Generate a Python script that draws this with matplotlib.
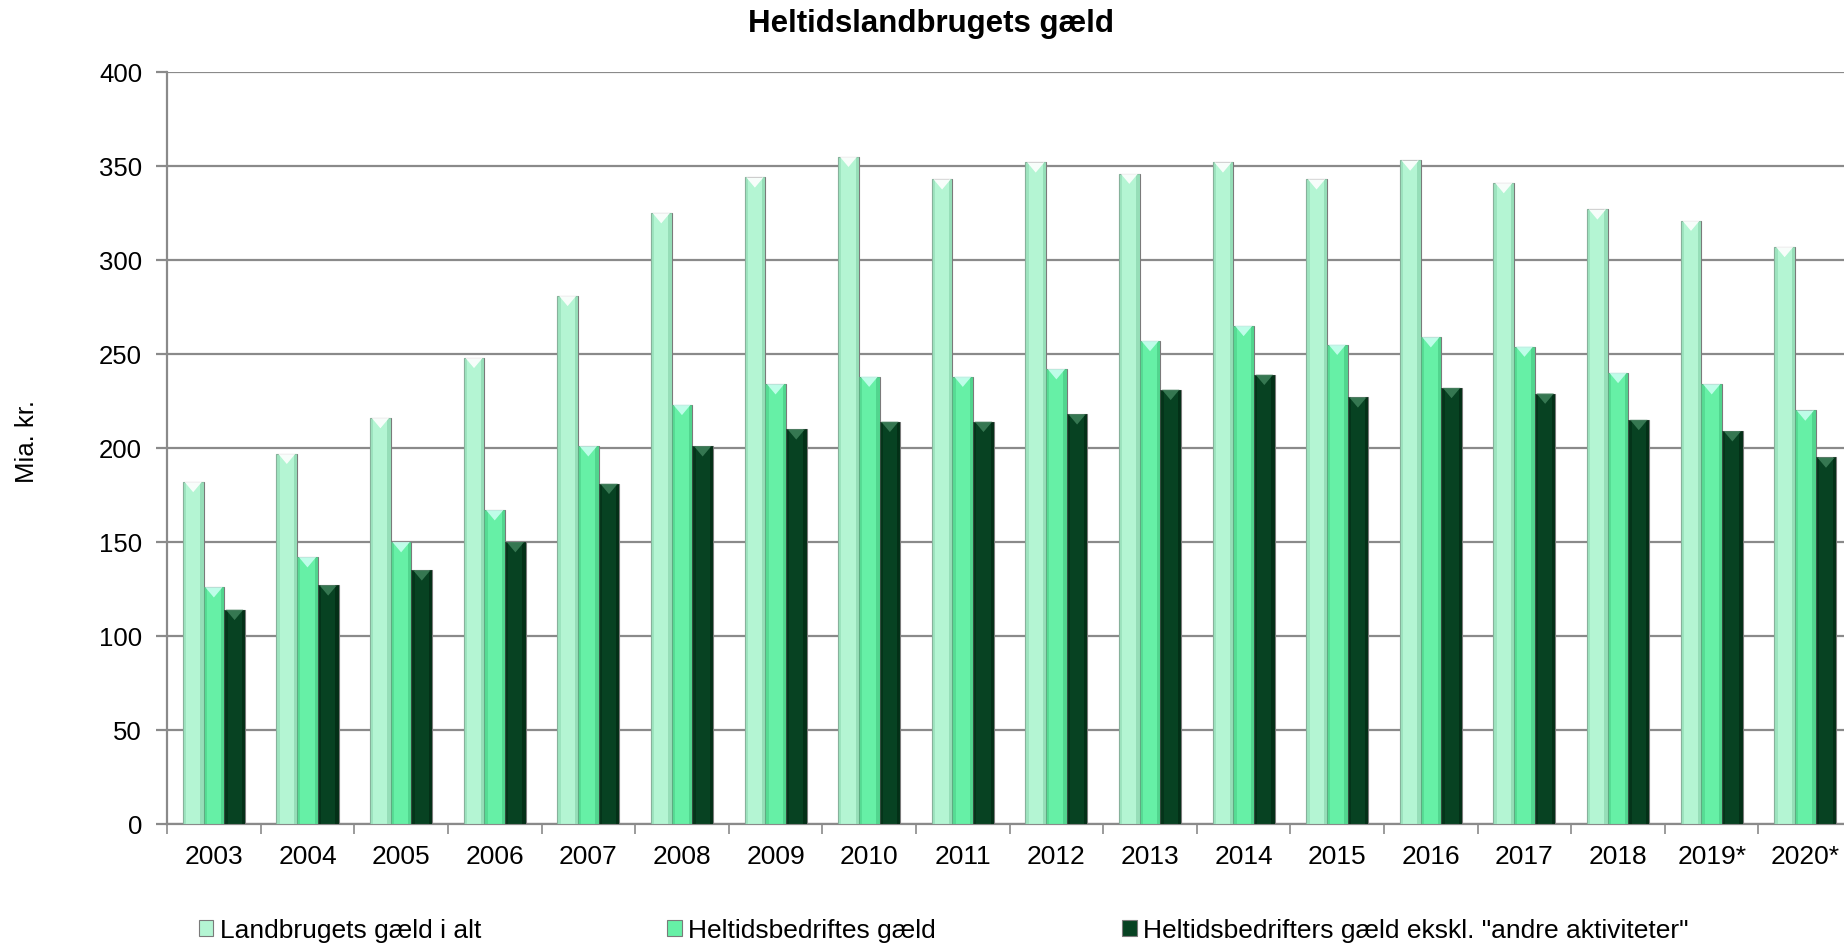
import matplotlib.pyplot as plt
from matplotlib.patches import Polygon, Patch
import numpy as np

plt.rcParams['font.family'] = ['Liberation Sans', 'DejaVu Sans']

years = ["2003", "2004", "2005", "2006", "2007", "2008", "2009", "2010", "2011",
         "2012", "2013", "2014", "2015", "2016", "2017", "2018", "2019*", "2020*"]
landbrug_i_alt = [182, 197, 216, 248, 281, 325, 344, 355, 343, 352, 346, 352, 343, 353, 341, 327, 321, 307]
heltid_gaeld = [126, 142, 150, 167, 201, 223, 234, 238, 238, 242, 257, 265, 255, 259, 254, 240, 234, 220]
heltid_ekskl = [114, 127, 135, 150, 181, 201, 210, 214, 214, 218, 231, 239, 227, 232, 229, 215, 209, 195]

series = [landbrug_i_alt, heltid_gaeld, heltid_ekskl]
labels = ["Landbrugets gæld i alt", "Heltidsbedriftes gæld",
          "Heltidsbedrifters gæld ekskl. \"andre aktiviteter\""]
colors = ["#b4f5d3", "#66f0a6", "#074222"]
shade = ["#8fd9b2", "#4ccf88", "#032c15"]
tops = ["#ffffff", "#c8fff0", "#3b7d57"]

fig = plt.figure(figsize=(18.44, 9.44), dpi=100)
ax = fig.add_axes([0.0906, 0.1271, 0.9138, 0.7966])

x = np.arange(len(years))
w = 0.221
grid_c = "#8a8a8a"

for i, vals in enumerate(series):
    pos = x + (i - 1) * w
    ax.bar(pos, vals, width=w, color=colors[i], edgecolor="#7a7a7a", linewidth=0.8, zorder=3)
    # bevel: darker side strips and light triangle on top
    ax.bar(pos - w * 0.42, vals, width=w * 0.16, color=shade[i], linewidth=0, zorder=4, alpha=0.6)
    ax.bar(pos + w * 0.42, vals, width=w * 0.16, color=shade[i], linewidth=0, zorder=4, alpha=0.8)
    for px, v in zip(pos, vals):
        tri = Polygon([[px - w * 0.42, v], [px + w * 0.42, v], [px, v - 5.5]],
                      closed=True, facecolor=tops[i], edgecolor="none", zorder=5, alpha=0.9)
        ax.add_patch(tri)

ax.set_xlim(-0.5, len(years) - 0.5)
ax.set_ylim(0, 400)
ax.set_yticks(range(0, 401, 50))
ax.yaxis.grid(True, color=grid_c, linewidth=1.6, zorder=0)
ax.set_axisbelow(True)

ax.set_xticks(x)
ax.set_xticklabels(years)
ax.set_xticks(np.arange(len(years) + 1) - 0.5, minor=True)
ax.tick_params(axis="x", which="major", length=0, pad=15, labelsize=19)
ax.tick_params(axis="x", which="minor", length=7, width=1.2, color=grid_c, direction="out")
ax.tick_params(axis="y", length=8, width=1.6, color=grid_c, pad=10, labelsize=18.5)

for s in ["top", "right"]:
    ax.spines[s].set_visible(False)
ax.spines["left"].set_color(grid_c)
ax.spines["left"].set_linewidth(1.6)
ax.spines["bottom"].set_color(grid_c)
ax.spines["bottom"].set_linewidth(1.6)

fig.text(0.0145, 0.532, "Mia. kr.", rotation=90, ha="center", va="center", fontsize=18.5)
fig.text(0.505, 0.975, "Heltidslandbrugets gæld", ha="center", va="center",
         fontsize=22.5, fontweight="bold")

handles = [Patch(facecolor=c, edgecolor="#7a7a7a", linewidth=0.8) for c in colors]
fig.legend(handles, labels, loc="center left", bbox_to_anchor=(0.0949, 0.014), ncol=3,
           frameon=False, fontsize=19, handlelength=0.55, handleheight=0.55,
           handletextpad=0.25, columnspacing=7.05)

fig.savefig("out.png", dpi=100)
